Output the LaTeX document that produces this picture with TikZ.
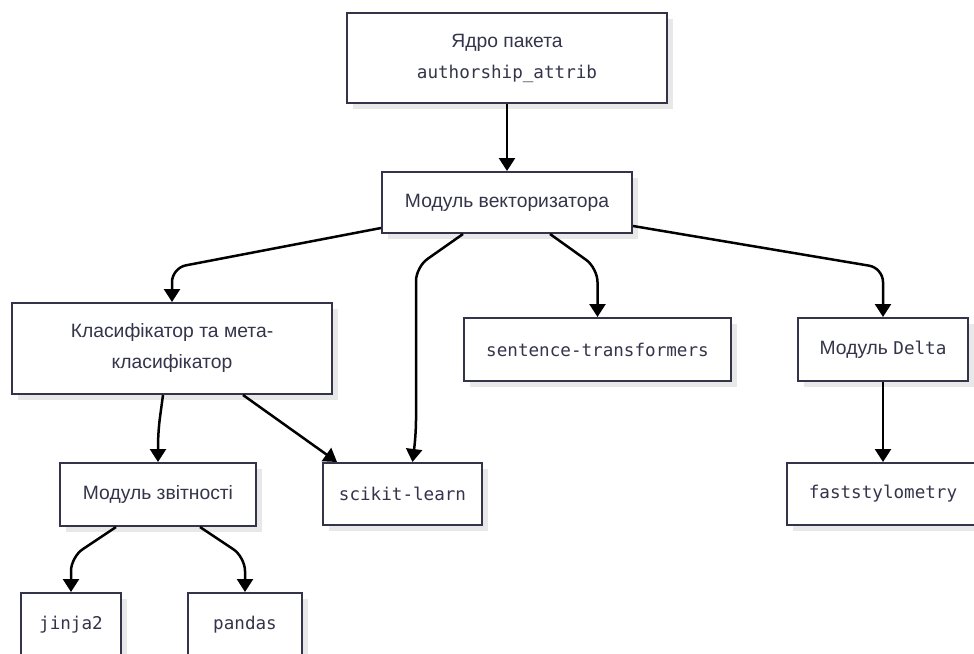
\documentclass[tikz,border=0pt]{standalone}
\usepackage{fontspec}
\setmainfont{Liberation Sans}
\setmonofont{DejaVu Sans Mono}
\usetikzlibrary{arrows.meta,calc,shadows}
\definecolor{boxline}{HTML}{33334A}
\definecolor{boxtext}{HTML}{34344A}
\definecolor{shade}{HTML}{E8E8E8}
\tikzset{
  box/.style={draw=boxline, line width=2pt, fill=white, text=boxtext,
    rectangle, inner sep=0pt, align=center,
    font=\fontsize{19.3}{31}\selectfont,
    drop shadow={shadow xshift=6pt, shadow yshift=-6pt, fill=shade, opacity=1}},
  link/.style={draw=black, line width=2.5pt, rounded corners=14pt,
    -{Triangle[length=13pt,width=16pt]}},
  code/.style={font=\fontsize{17.6}{31}\ttfamily}
}
\begin{document}
\begin{tikzpicture}[x=1pt,y=-1pt]
\clip (0,0) rectangle (974,653);
\fill[white] (0,0) rectangle (974,653);

% nodes
\node[box, minimum width=320pt, minimum height=90pt] (core) at (507,58)
  {Ядро пакета\\{\fontsize{17.6}{31}\ttfamily authorship\_attrib}};
\node[box, minimum width=250pt, minimum height=61pt] (vec) at (507,202.5)
  {Модуль векторизатора};
\node[box, minimum width=320pt, minimum height=91pt] (cls) at (172,348.5)
  {Класифікатор та мета-\\класифікатор};
\node[box, code, minimum width=267pt, minimum height=63pt] (st) at (597.5,349.5)
  {sentence-transformers};
\node[box, minimum width=170pt, minimum height=63pt] (delta) at (883,349.5)
  {Модуль {\fontsize{17.6}{31}\ttfamily Delta}};
\node[box, minimum width=196pt, minimum height=63pt] (rep) at (158,494.5)
  {Модуль звітності};
\node[box, code, minimum width=159pt, minimum height=62pt] (sk) at (402.5,494)
  {scikit-learn};
\node[box, code, minimum width=192pt, minimum height=62pt] (fast) at (883,494)
  {faststylometry};
\node[box, code, minimum width=100pt, minimum height=63pt] (jinja) at (71,624.5)
  {jinja2};
\node[box, code, minimum width=114pt, minimum height=63pt] (pandas) at (245,624.5)
  {pandas};

% connectors
\draw[link] (core.south) -- (vec.north);
\draw[link] ($(vec.south west)+(0,-6)$) -- ($(cls.north)+(0,-34)$) -- (cls.north);
\draw[link] ($(vec.south)+(-44,0)$) -- ($(sk.north)+(13.5,-195)$)
  -- ($(sk.north)+(13.5,-28)$) -- ($(sk.north)+(10,0)$);
\draw[link] ($(vec.south)+(43,0)$) -- ($(st.north)+(0,-49)$) -- (st.north);
\draw[link] ($(vec.south east)+(0,-8)$) -- ($(delta.north)+(0,-49)$) -- (delta.north);
\draw[link] ($(cls.south)+(-9,0)$) -- ($(rep.north)+(0,-30)$) -- (rep.north);
\draw[link] ($(cls.south)+(71,0)$) -- ($(sk.north west)+(15,0)$);
\draw[link] (delta.south) -- (fast.north);
\draw[link] ($(rep.south)+(-42,0)$) -- ($(jinja.north)+(0,-35)$) -- (jinja.north);
\draw[link] ($(rep.south)+(42,0)$) -- ($(pandas.north)+(0,-35)$) -- (pandas.north);
\end{tikzpicture}
\end{document}
